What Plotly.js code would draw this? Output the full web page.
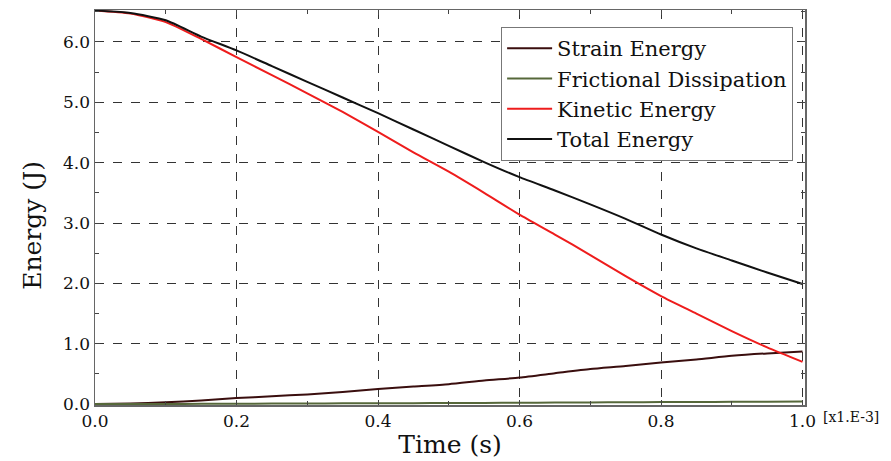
<!DOCTYPE html>
<html>
<head>
<meta charset="utf-8">
<script src="https://cdn.plot.ly/plotly-3.0.1.min.js"></script>
<style>html,body{margin:0;padding:0;background:#fff;}#chart{width:891px;height:461px;}</style>
</head>
<body>
<div id="chart"></div>
<script>
const time = [0, 0.05, 0.1, 0.15, 0.2, 0.25, 0.3, 0.35, 0.4, 0.45, 0.5, 0.55, 0.6, 0.65, 0.7, 0.75, 0.8, 0.85, 0.9, 0.95, 1.0];
const strainEnergy = [0, 0.01, 0.03, 0.06, 0.10, 0.13, 0.16, 0.20, 0.25, 0.29, 0.33, 0.39, 0.44, 0.51, 0.58, 0.63, 0.69, 0.74, 0.80, 0.84, 0.87];
const frictionalDissipation = [0, 0.001, 0.002, 0.004, 0.005, 0.008, 0.010, 0.012, 0.013, 0.016, 0.018, 0.020, 0.023, 0.025, 0.028, 0.030, 0.033, 0.035, 0.038, 0.040, 0.043];
const kineticEnergy = [6.52, 6.47, 6.33, 6.05, 5.75, 5.45, 5.15, 4.84, 4.51, 4.17, 3.85, 3.50, 3.14, 2.81, 2.47, 2.12, 1.79, 1.50, 1.21, 0.94, 0.70];
const totalEnergy = [6.52, 6.48, 6.36, 6.09, 5.86, 5.60, 5.34, 5.08, 4.82, 4.55, 4.28, 4.01, 3.76, 3.54, 3.31, 3.07, 2.81, 2.58, 2.38, 2.18, 1.99];
const seriesNames = ["Strain Energy", "Frictional Dissipation", "Kinetic Energy", "Total Energy"];
const xTickVals = [0, 0.2, 0.4, 0.6, 0.8, 1.0];
const xTickText = ["0.0", "0.2", "0.4", "0.6", "0.8", "1.0"];
const yTickVals = [0, 1, 2, 3, 4, 5, 6];
const yTickText = ["0.0", "1.0", "2.0", "3.0", "4.0", "5.0", "6.0"];

const serif = "DejaVu Serif, serif";
const ln = (c) => ({color: c, width: 2, shape: "spline", smoothing: 0.6});
const traces = [
  {x: time, y: strainEnergy, name: seriesNames[0], mode: "lines", line: ln("#3a0e0e")},
  {x: time, y: frictionalDissipation, name: seriesNames[1], mode: "lines", line: ln("#56683a")},
  {x: time, y: kineticEnergy, name: seriesNames[2], mode: "lines", line: ln("#ee1c1c")},
  {x: time, y: totalEnergy, name: seriesNames[3], mode: "lines", line: ln("#111111")}
];

const axisCommon = {
  showline: true, linecolor: "#666", linewidth: 1.5, mirror: "ticks",
  ticks: "inside", ticklen: 5, tickcolor: "#444", tickwidth: 1,
  showgrid: true, gridcolor: "#333", gridwidth: 1, griddash: "dash",
  zeroline: false, tickfont: {family: serif, size: 17, color: "#111"}
};

const layout = {
  width: 891, height: 461,
  margin: {l: 95, r: 86, t: 10, b: 56},
  paper_bgcolor: "#fff", plot_bgcolor: "#fff",
  showlegend: true,
  legend: {
    x: 0.572, y: 0.957, xanchor: "left", yanchor: "top",
    bgcolor: "#fff", bordercolor: "#777", borderwidth: 1,
    font: {family: serif, size: 21, color: "#111"},
    itemwidth: 45, tracegroupgap: 0
  },
  xaxis: Object.assign({}, axisCommon, {
    range: [0, 1.0035], tickmode: "array", tickvals: xTickVals, ticktext: xTickText,
    minor: {dtick: 0.1, ticks: "inside", ticklen: 4, tickcolor: "#444", showgrid: false},
    title: {text: "Time (s)", font: {family: serif, size: 25, color: "#111"}, standoff: 5}
  }),
  yaxis: Object.assign({}, axisCommon, {
    range: [-0.015, 6.53], tickmode: "array", tickvals: yTickVals, ticktext: yTickText,
    minor: {dtick: 0.5, ticks: "inside", ticklen: 4, tickcolor: "#444", showgrid: false}
  }),
  annotations: [
    {text: "Energy (J)", textangle: -90, xref: "paper", yref: "paper", x: -0.088, y: 0.455,
     xanchor: "center", yanchor: "middle", showarrow: false,
     font: {family: serif, size: 25, color: "#111"}},
    {text: "[x1.E-3]", xref: "paper", yref: "paper", x: 1.022, y: -0.005,
     xanchor: "left", yanchor: "top", showarrow: false,
     font: {family: serif, size: 14, color: "#111"}}
  ]
};

Plotly.newPlot("chart", traces, layout, {displayModeBar: false, staticPlot: true});
</script>
</body>
</html>
